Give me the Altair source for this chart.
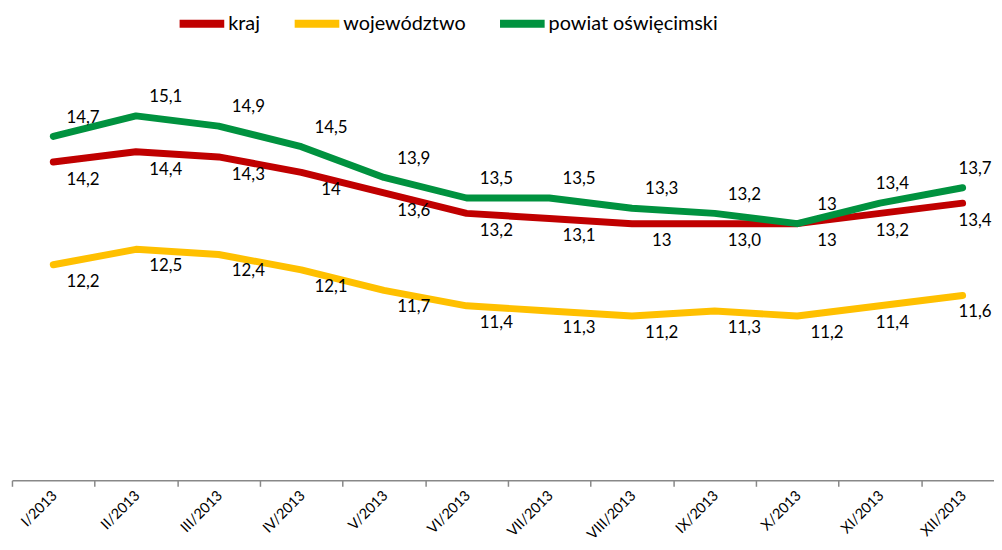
import altair as alt
import pandas as pd

months = ["I/2013", "II/2013", "III/2013", "IV/2013", "V/2013", "VI/2013",
          "VII/2013", "VIII/2013", "IX/2013", "X/2013", "XI/2013", "XII/2013"]
series = ["kraj", "województwo", "powiat oświęcimski"]
colors = ["#C00000", "#FFC000", "#00923F"]

kraj = [14.2, 14.4, 14.3, 14.0, 13.6, 13.2, 13.1, 13.0, 13.0, 13.0, 13.2, 13.4]
kraj_labels = ["14,2", "14,4", "14,3", "14", "13,6", "13,2", "13,1", "13", "13,0", "13", "13,2", "13,4"]

wojewodztwo = [12.2, 12.5, 12.4, 12.1, 11.7, 11.4, 11.3, 11.2, 11.3, 11.2, 11.4, 11.6]
wojewodztwo_labels = ["12,2", "12,5", "12,4", "12,1", "11,7", "11,4", "11,3", "11,2", "11,3", "11,2", "11,4", "11,6"]

powiat = [14.7, 15.1, 14.9, 14.5, 13.9, 13.5, 13.5, 13.3, 13.2, 13.0, 13.4, 13.7]
powiat_labels = ["14,7", "15,1", "14,9", "14,5", "13,9", "13,5", "13,5", "13,3", "13,2", "13", "13,4", "13,7"]

rows = []
for name, vals, labs in zip(series, [kraj, wojewodztwo, powiat],
                            [kraj_labels, wojewodztwo_labels, powiat_labels]):
    for i, (m, v, l) in enumerate(zip(months, vals, labs)):
        rows.append({"idx": i + 1, "month": m, "series": name, "value": v, "label": l})
df = pd.DataFrame(rows)

FONT = "Lato"
x_scale = alt.Scale(domain=[0.5, 12.38], nice=False, zero=False)
y_scale = alt.Scale(domain=[8, 16], nice=False, zero=False)

label_expr = "[" + ",".join("'" + m + "'" for m in months) + "][round(datum.value - 0.5)]"

x_axis = alt.Axis(
    values=[i + 0.5 for i in range(len(months))],
    labelExpr=label_expr, labelOffset=43, labelAngle=-45,
    labelAlign="right", labelBaseline="middle", labelPadding=7,
    labelFont=FONT, labelFontSize=14.5, labelColor="black",
    labelOverlap=False, labelFlush=False, labelBound=False,
    tickSize=6, tickColor="#888888", tickWidth=1.5,
    domainColor="#888888", domainWidth=1.5, grid=False, title=None,
)

lines = alt.Chart(df).mark_line(
    strokeWidth=7, strokeCap="round", strokeJoin="round"
).encode(
    x=alt.X("idx:Q", scale=x_scale, axis=x_axis),
    y=alt.Y("value:Q", scale=y_scale, axis=None),
    color=alt.Color(
        "series:N",
        scale=alt.Scale(domain=series, range=colors),
        legend=alt.Legend(
            title=None, orient="none", legendX=165, legendY=-73,
            direction="horizontal", symbolType="stroke",
            symbolStrokeWidth=8, symbolSize=2025,
            labelFont=FONT, labelFontSize=20, labelColor="black",
            labelOffset=0, columnPadding=18, labelLimit=400,
        ),
    ),
    detail="series:N",
)

def text_layer(name, dy):
    return alt.Chart(df).transform_filter(
        alt.datum.series == name
    ).transform_calculate(
        lx="datum.idx >= 11 ? datum.idx + 0.15 : datum.idx + 0.36"
    ).mark_text(
        font=FONT, fontSize=17, color="black", dy=dy
    ).encode(
        x=alt.X("lx:Q", scale=x_scale, axis=x_axis),
        y=alt.Y("value:Q", scale=y_scale, axis=None),
        text="label:N",
    )

chart = alt.layer(
    lines,
    text_layer("kraj", 18),
    text_layer("województwo", 17),
    text_layer("powiat oświęcimski", -19),
).properties(
    width=990, height=414,
    autosize="none",
    padding={"left": 4, "top": 60, "right": 0, "bottom": 60},
).configure_view(stroke=None)

chart.save("out.html", embed_options={"renderer": "svg", "actions": False})
